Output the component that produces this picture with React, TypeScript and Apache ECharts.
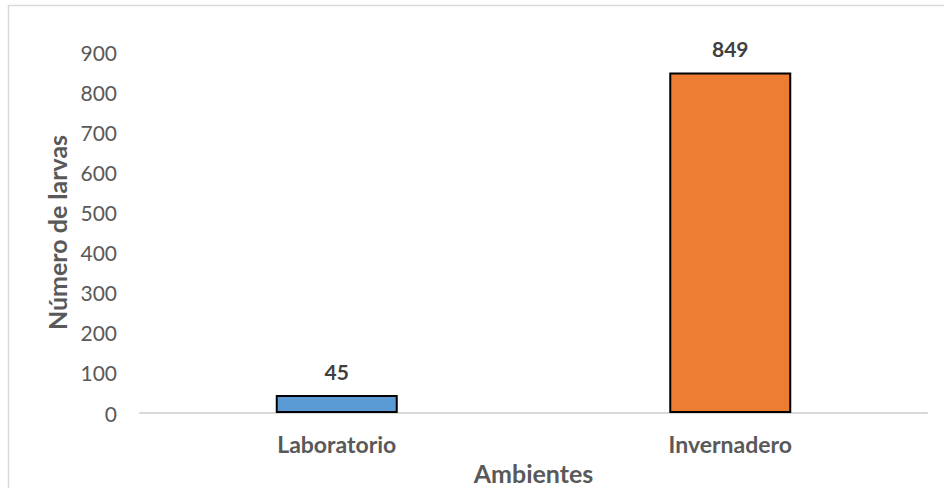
import React, { useEffect, useRef } from "react";
import * as echarts from "echarts";

const categories = ["Laboratorio", "Invernadero"];
const values = [45, 849];
const barColors = ["#5b9bd5", "#ed7d31"];

export default function App() {
  const ref = useRef<HTMLDivElement>(null);
  useEffect(() => {
    if (!ref.current) return;
    const chart = echarts.init(ref.current, null, { renderer: "svg" });
    const font = "Lato, 'Open Sans', sans-serif";
    chart.setOption({
      animation: false,
      backgroundColor: "#ffffff",
      graphic: [
        {
          type: "rect",
          shape: { x: 8.5, y: 5.5, width: 940, height: 500 },
          style: { fill: "none", stroke: "#d9d9d9", lineWidth: 1.5 },
          silent: true,
        },
      ],
      grid: { left: 140, right: 17, top: 52, bottom: 75, outerBoundsMode: "none", containLabel: false },
      xAxis: {
        type: "category",
        data: categories,
        axisLine: { lineStyle: { color: "#d9d9d9", width: 2 } },
        axisTick: { show: false },
        axisLabel: { color: "#595959", fontFamily: font, fontSize: 23, fontWeight: "bold", margin: 19 },
        name: "Ambientes",
        nameLocation: "middle",
        nameGap: 47,
        nameTextStyle: { color: "#595959", fontFamily: font, fontSize: 25, fontWeight: "bold" },
      },
      yAxis: {
        type: "value",
        min: 0,
        max: 900,
        interval: 100,
        axisLine: { show: false },
        axisTick: { show: false },
        splitLine: { show: false },
        axisLabel: { color: "#595959", fontFamily: font, fontSize: 21, margin: 23 },
        name: "Número de larvas",
        nameLocation: "middle",
        nameGap: 70,
        nameTextStyle: { color: "#595959", fontFamily: font, fontSize: 25, fontWeight: "bold" },
      },
      series: [
        {
          type: "bar",
          barWidth: "31%",
          data: values.map((v, i) => ({
            value: v,
            itemStyle: { color: barColors[i], borderColor: "#000000", borderWidth: 2 },
          })),
          label: {
            show: true,
            position: "top",
            distance: 13,
            color: "#404040",
            fontFamily: font,
            fontSize: 21,
            fontWeight: "bold",
          },
        },
      ],
    });
    return () => chart.dispose();
  }, []);
  return (
    <div
      ref={ref}
      style={{ position: "absolute", left: 0, top: 0, width: 944, height: 488 }}
    />
  );
}
